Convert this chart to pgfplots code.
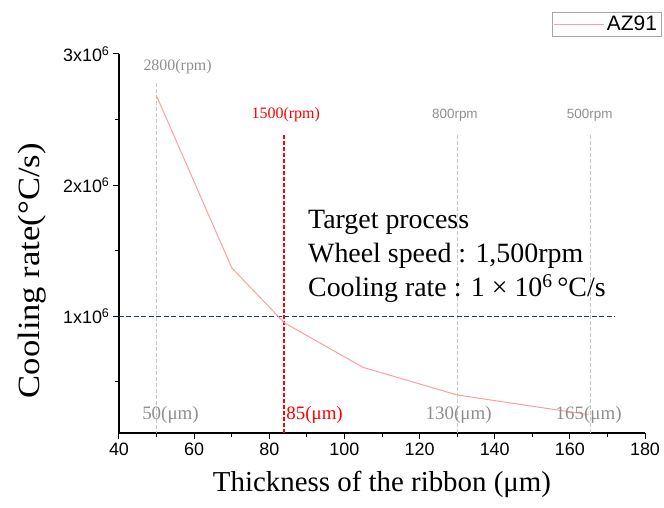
\documentclass[border=0pt]{standalone}
\usepackage{fontspec}
\setmainfont{Liberation Serif}
\newfontfamily\arial{Liberation Sans}
\usepackage{pgfplots}
\pgfplotsset{compat=1.18}
\definecolor{curvepink}{HTML}{FF9E9E}
\definecolor{guidegrey}{HTML}{C8C8C8}
\definecolor{labelgrey}{HTML}{8F8F8F}
\definecolor{targetred}{HTML}{FF0000}
\definecolor{navyline}{HTML}{1E3A7B}

\begin{document}
\begin{tikzpicture}
\begin{axis}[
  name=ax,
  scale only axis,
  width=526bp, height=379bp,
  xmin=40, xmax=180, ymin=0.11e6, ymax=3e6,
  axis x line*=bottom, axis y line*=left,
  axis line style={-, line width=1.1bp},
  xtick={40,60,...,180}, minor x tick num=1,
  ytick={1e6,2e6,3e6},
  yticklabels={1x10\textsuperscript{6},2x10\textsuperscript{6},3x10\textsuperscript{6}},
  minor ytick={0.5e6,1.5e6,2.5e6},
  tick align=outside, major tick length=6bp, minor tick length=4bp,
  tick style={black, line width=1bp},
  ticklabel style={font=\arial\fontsize{18}{18}\selectfont},
  /pgf/number format/assume math mode=true,
  scaled ticks=false,
  clip=false,
  xlabel={Thickness of the ribbon (μm)},
  xlabel style={font=\fontsize{29}{29}\selectfont, at={(axis description cs:0.5,0)}, anchor=base, yshift=-58.7bp},
  ylabel={Cooling rate(°C/s)},
  ylabel style={font=\fontsize{31}{31}\selectfont, at={(axis description cs:-0.166,0.428)}, anchor=center, xscale=1.12},
  legend style={at={(axis description cs:0.823,1.1107)}, anchor=north west, outer sep=0pt,
    draw=gray!70, font=\arial\fontsize{21}{21}\selectfont, inner xsep=2bp, inner ysep=2bp},
  legend image code/.code={\draw[#1] (0bp,0bp) -- (50bp,0bp);},
]
% guide lines
\addplot[guidegrey, line width=1bp, dash pattern=on 4bp off 2bp, forget plot] coordinates {(50,2.78e6) (50,0.11e6)};
\addplot[guidegrey, line width=1bp, dash pattern=on 4bp off 2bp, forget plot] coordinates {(130,2.38e6) (130,0.11e6)};
\addplot[guidegrey, line width=1bp, dash pattern=on 4bp off 2bp, forget plot] coordinates {(165.4,2.38e6) (165.4,0.11e6)};
\addplot[navyline, line width=1.4bp, dash pattern=on 5bp off 2.5bp, forget plot] coordinates {(40,1e6) (172,1e6)};
\addplot[targetred, line width=1.8bp, dash pattern=on 4bp off 2bp, forget plot] coordinates {(84,2.38e6) (84,0.11e6)};
% cooling rate curve
\addplot[curvepink, line width=1bp] coordinates {
  (50,2.68e6) (70,1.37e6) (84,0.95e6) (105,0.61e6) (130,0.40e6) (165,0.25e6)};
\addlegendentry{AZ91\hspace{8bp}}

% annotations
\node[labelgrey, font=\fontsize{16}{16}\selectfont] at (axis cs:55.6,2.90e6) {2800(rpm)};
\node[targetred, font=\fontsize{16}{16}\selectfont] at (axis cs:84.4,2.535e6) {1500(rpm)};
\node[labelgrey, font=\arial\fontsize{13.5}{13.5}\selectfont] at (axis cs:129.4,2.53e6) {800rpm};
\node[labelgrey, font=\arial\fontsize{13.5}{13.5}\selectfont] at (axis cs:165.3,2.53e6) {500rpm};
\node[labelgrey, font=\fontsize{19}{19}\selectfont] at (axis cs:53.7,0.244e6) {50(μm)};
\node[targetred, font=\fontsize{19}{19}\selectfont, anchor=west, inner xsep=0pt] at (axis cs:84.5,0.244e6) {85(μm)};
\node[labelgrey, font=\fontsize{19}{19}\selectfont] at (axis cs:130.4,0.244e6) {130(μm)};
\node[labelgrey, font=\fontsize{19}{19}\selectfont] at (axis cs:165.0,0.244e6) {165(μm)};
\node[anchor=base west, inner sep=0pt, font=\fontsize{28}{34}\selectfont] at (axis cs:90.3,1.666e6) {Target process};
\node[anchor=base west, inner sep=0pt, font=\fontsize{28}{34}\selectfont] at (axis cs:90.3,1.409e6) {Wheel speed : 1,500rpm};
\node[anchor=base west, inner sep=0pt, font=\fontsize{28}{34}\selectfont] at (axis cs:90.3,1.150e6) {Cooling rate : 1 × 10\textsuperscript{6}\,°C/s};
\end{axis}
\pgfresetboundingbox
\path[use as bounding box] ([shift={(-119bp,-74.7bp)}]ax.south west) rectangle ([shift={(19bp,54bp)}]ax.north east);
\end{tikzpicture}
\end{document}
